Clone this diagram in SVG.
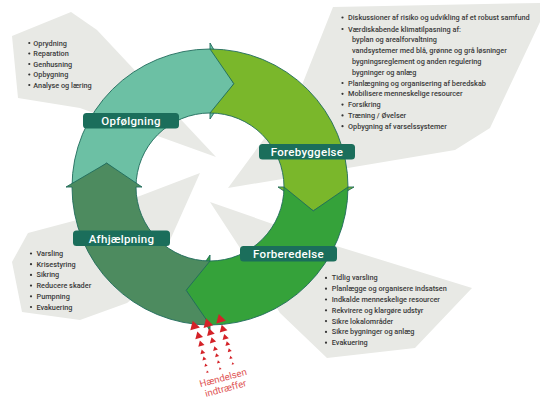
<svg xmlns="http://www.w3.org/2000/svg" width="542" height="399" viewBox="0 0 542 399">
<defs>
<style>
.callout{fill:#e8e9e5;}
.seg{stroke:#1f6b5b;stroke-width:0.9;stroke-linejoin:miter;}
.lbox{fill:#1b6e5b;}
.ltxt{font-family:Roboto,"Liberation Sans",sans-serif;font-weight:500;font-size:11.5px;fill:#ffffff;text-anchor:middle;letter-spacing:0.3px;}
.li{font-family:Roboto,"Liberation Sans",sans-serif;font-weight:500;font-size:7.3px;fill:#3a3a3a;}
.bul{fill:#333333;}
.red{fill:#d42228;}
.rtxt{font-family:Roboto,"Liberation Sans",sans-serif;font-size:9.6px;fill:#e05555;text-anchor:middle;}
</style>
<polygon id="tri" points="0,-4.5 5,4 -5,4"/>
</defs>
<g id="callouts">
<polygon class="callout" points="12,36 71,12 97,30 216,157 80,108 18,98"/>
<polygon class="callout" points="333,7 540,3 540,22 490,128 455,150 228,188 300,90"/>
<polygon class="callout" points="28,233 77,220 200,173 150,285 127,303 80,320 22,312 12,262"/>
<polygon class="callout" points="210,202 333,245 472,288 415,348 327,358 280,313 240,248"/>
</g>
<g id="ring">
<g id="opfoelgning">
<path class="seg" fill="#6cc0a4" d="M72,187 A138,138 0 0 1 210,49 L210,43 L233.85,83.72 L210,119 L210,113 A74,74 0 0 0 136,187 L106.72,163.15 Z"/>
</g>
<g id="forebyggelse">
<path class="seg" fill="#7ab72b" d="M210,49 A138,138 0 0 1 348,187 L354,187 L313.28,210.85 L278,187 L284,187 A74,74 0 0 0 210,113 L233.85,83.72 Z"/>
</g>
<g id="forberedelse">
<path class="seg" fill="#35a23a" d="M348,187 A138,138 0 0 1 210,325 L210,331 L186.15,290.28 L210,255 L210,261 A74,74 0 0 0 284,187 L313.28,210.85 Z"/>
</g>
<g id="afhjaelpning">
<path class="seg" fill="#4d8b5f" d="M210,325 A138,138 0 0 1 72,187 L66,187 L106.72,163.15 L142,187 L136,187 A74,74 0 0 0 210,261 L186.15,290.28 Z"/>
</g>
</g>
<g id="labels">
<g id="label-opfoelgning"><rect class="lbox" x="83" y="113" width="96" height="15.5" rx="3.5"/><text class="ltxt" x="131" y="125">Opfølgning</text></g>
<g id="label-forebyggelse"><rect class="lbox" x="259" y="144" width="96" height="15.5" rx="3.5"/><text class="ltxt" x="307" y="156">Forebyggelse</text></g>
<g id="label-forberedelse"><rect class="lbox" x="240" y="246" width="97" height="15.5" rx="3.5"/><text class="ltxt" x="288.5" y="258">Forberedelse</text></g>
<g id="label-afhjaelpning"><rect class="lbox" x="73" y="230.5" width="97" height="15.5" rx="3.5"/><text class="ltxt" x="121.5" y="242.5">Afhjælpning</text></g>
</g>
<g id="list-tl">
<circle class="bul" cx="29.3" cy="43" r="1.1"/><text class="li" x="33.3" y="45.5">Oprydning</text>
<circle class="bul" cx="29.3" cy="53.5" r="1.1"/><text class="li" x="33.3" y="56">Reparation</text>
<circle class="bul" cx="29.3" cy="64" r="1.1"/><text class="li" x="33.3" y="66.5">Genhusning</text>
<circle class="bul" cx="29.3" cy="74.5" r="1.1"/><text class="li" x="33.3" y="77">Opbygning</text>
<circle class="bul" cx="29.3" cy="85" r="1.1"/><text class="li" x="33.3" y="87.5">Analyse og læring</text>
</g>
<g id="list-tr">
<circle class="bul" cx="342.5" cy="17.5" r="1.1"/><text class="li" x="348" y="20">Diskussioner af risiko og udvikling af et robust samfund</text>
<circle class="bul" cx="342.5" cy="29" r="1.1"/><text class="li" x="348" y="31.5">Værdiskabende klimatilpasning af:</text>
<text class="li" x="352" y="42.3">byplan og arealforvaltning</text>
<text class="li" x="352" y="53.1">vandsystemer med blå, grønne og grå løsninger</text>
<text class="li" x="352" y="63.9">bygningsreglement og anden regulering</text>
<text class="li" x="352" y="74.7">bygninger og anlæg</text>
<circle class="bul" cx="342.5" cy="83" r="1.1"/><text class="li" x="348" y="85.5">Planlægning og organisering af beredskab</text>
<circle class="bul" cx="342.5" cy="93.8" r="1.1"/><text class="li" x="348" y="96.3">Mobilisere menneskelige resourcer</text>
<circle class="bul" cx="342.5" cy="104.6" r="1.1"/><text class="li" x="348" y="107.1">Forsikring</text>
<circle class="bul" cx="342.5" cy="115.4" r="1.1"/><text class="li" x="348" y="117.9">Træning / Øvelser</text>
<circle class="bul" cx="342.5" cy="126.2" r="1.1"/><text class="li" x="348" y="128.7">Opbygning af varselssystemer</text>
</g>
<g id="list-bl">
<circle class="bul" cx="31" cy="253.5" r="1.1"/><text class="li" x="36.5" y="256">Varsling</text>
<circle class="bul" cx="31" cy="264.2" r="1.1"/><text class="li" x="36.5" y="266.7">Krisestyring</text>
<circle class="bul" cx="31" cy="274.9" r="1.1"/><text class="li" x="36.5" y="277.4">Sikring</text>
<circle class="bul" cx="31" cy="285.6" r="1.1"/><text class="li" x="36.5" y="288.1">Reducere skader</text>
<circle class="bul" cx="31" cy="296.3" r="1.1"/><text class="li" x="36.5" y="298.8">Pumpning</text>
<circle class="bul" cx="31" cy="307" r="1.1"/><text class="li" x="36.5" y="309.5">Evakuering</text>
</g>
<g id="list-br">
<circle class="bul" cx="326" cy="277.9" r="1.1"/><text class="li" x="331.8" y="280.4">Tidlig varsling</text>
<circle class="bul" cx="326" cy="288.7" r="1.1"/><text class="li" x="331.8" y="291.2">Planlægge og organisere indsatsen</text>
<circle class="bul" cx="326" cy="299.5" r="1.1"/><text class="li" x="331.8" y="302">Indkalde menneskelige resourcer</text>
<circle class="bul" cx="326" cy="310.3" r="1.1"/><text class="li" x="331.8" y="312.8">Rekvirere og klargøre udstyr</text>
<circle class="bul" cx="326" cy="321.1" r="1.1"/><text class="li" x="331.8" y="323.6">Sikre lokalområder</text>
<circle class="bul" cx="326" cy="331.9" r="1.1"/><text class="li" x="331.8" y="334.4">Sikre bygninger og anlæg</text>
<circle class="bul" cx="326" cy="342.7" r="1.1"/><text class="li" x="331.8" y="345.2">Evakuering</text>
</g>
<g id="event-arrows" class="red">
<use href="#tri" transform="translate(194,325) rotate(-16) scale(1)"/>
<use href="#tri" transform="translate(198.3,335) rotate(-16) scale(0.8)"/>
<use href="#tri" transform="translate(200.7,343.3) rotate(-16) scale(0.65)"/>
<use href="#tri" transform="translate(202.3,351.7) rotate(-16) scale(0.5)"/>
<use href="#tri" transform="translate(204,358.3) rotate(-16) scale(0.42)"/>
<use href="#tri" transform="translate(205.7,365) rotate(-16) scale(0.34)"/>
<use href="#tri" transform="translate(207.3,371.7) rotate(-16) scale(0.27)"/>
<use href="#tri" transform="translate(207.3,322.7) rotate(-16) scale(1)"/>
<use href="#tri" transform="translate(210,331.7) rotate(-16) scale(0.8)"/>
<use href="#tri" transform="translate(212.3,340) rotate(-16) scale(0.65)"/>
<use href="#tri" transform="translate(215,348.3) rotate(-16) scale(0.5)"/>
<use href="#tri" transform="translate(216.7,355) rotate(-16) scale(0.42)"/>
<use href="#tri" transform="translate(218.3,361.7) rotate(-16) scale(0.34)"/>
<use href="#tri" transform="translate(220,368.3) rotate(-16) scale(0.27)"/>
<use href="#tri" transform="translate(220,318.3) rotate(-16) scale(1)"/>
<use href="#tri" transform="translate(222.7,328.3) rotate(-16) scale(0.8)"/>
<use href="#tri" transform="translate(225,336.7) rotate(-16) scale(0.65)"/>
<use href="#tri" transform="translate(227.3,343.3) rotate(-16) scale(0.5)"/>
<use href="#tri" transform="translate(229.3,350) rotate(-16) scale(0.42)"/>
<use href="#tri" transform="translate(230.7,357.3) rotate(-16) scale(0.34)"/>
<use href="#tri" transform="translate(232.7,363.3) rotate(-16) scale(0.27)"/>
</g>
<g id="event-label">
<text class="rtxt" transform="rotate(-15 224 381)" x="224" y="381">Hændelsen</text>
<text class="rtxt" transform="rotate(-15 226.5 391.5)" x="226.5" y="391.5">indtræffer</text>
</g>
</svg>
